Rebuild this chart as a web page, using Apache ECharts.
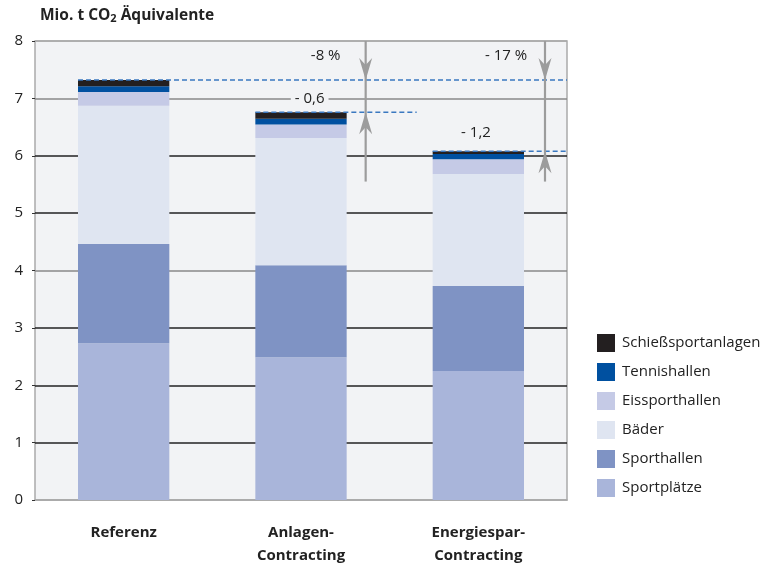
<!DOCTYPE html>
<html><head><meta charset="utf-8">
<script src="https://cdn.jsdelivr.net/npm/echarts@6/dist/echarts.min.js"></script>
<style>html,body{margin:0;padding:0;background:#fff}#c{width:763px;height:567px}</style>
</head><body><div id="c"></div>
<script>
const categories = ['Referenz', 'Anlagen-\nContracting', 'Energiespar-\nContracting'];
const sportplaetze = [2.73, 2.49, 2.25];
const sporthallen = [1.73, 1.60, 1.48];
const baeder = [2.41, 2.22, 1.95];
const eissporthallen = [0.24, 0.235, 0.26];
const tennishallen = [0.10, 0.10, 0.09];
const schiessanlagen = [0.11, 0.115, 0.05];
const yTicks = [0, 1, 2, 3, 4, 5, 6, 7, 8];
const diffLabels = ['-8 %', '- 0,6', '- 17 %', '- 1,2'];

const seriesDefs = [
  ['Sportplätze', sportplaetze, '#a9b5da'],
  ['Sporthallen', sporthallen, '#7f93c4'],
  ['Bäder', baeder, '#dfe5f1'],
  ['Eissporthallen', eissporthallen, '#c5cae6'],
  ['Tennishallen', tennishallen, '#0050a0'],
  ['Schießsportanlagen', schiessanlagen, '#231f20']
];
const FONT = '"Open Sans", sans-serif';
const chart = echarts.init(document.getElementById('c'), null, {renderer: 'canvas'});
const totals = categories.map((_, i) => seriesDefs.reduce((s, d) => s + d[1][i], 0));

const option = {
  animation: false,
  backgroundColor: '#fff',
  textStyle: {fontFamily: FONT},
  grid: {left: 35, right: 196, top: 41, bottom: 66, show: true, backgroundColor: '#f2f3f5', borderColor: '#aaaaaa', borderWidth: 1.5},
  legend: {
    orient: 'vertical', left: 592, top: 329, itemWidth: 18, itemHeight: 18, itemGap: 11,
    icon: 'rect',
    data: seriesDefs.map(d => d[0]).reverse(),
    textStyle: {fontFamily: FONT, fontSize: 15, color: '#222', padding: [0, 0, 0, 2]}
  },
  xAxis: {
    type: 'category', data: categories,
    axisLine: {show: true, lineStyle: {color: '#aaaaaa', width: 1.5}},
    axisTick: {show: false},
    axisLabel: {fontFamily: FONT, fontSize: 15, fontWeight: 'bold', color: '#222', margin: 21, lineHeight: 23}
  },
  yAxis: {
    type: 'value', min: 0, max: 8, interval: 1,
    axisLine: {show: false},
    axisTick: {show: true, length: 3, lineStyle: {color: '#333'}},
    axisLabel: {fontFamily: FONT, fontSize: 15, color: '#222', margin: 12,
      formatter: v => yTicks.includes(v) ? String(v) : ''},
    splitLine: {show: true, lineStyle: {width: 1.5, color: ['#aaaaaa', '#222', '#222', '#222', '#888', '#222', '#222', '#888', '#aaaaaa']}}
  },
  series: seriesDefs.map(d => ({
    name: d[0], type: 'bar', stack: 'total', data: d[1], barWidth: '51.5%',
    itemStyle: {color: d[2]}
  }))
};
chart.setOption(option);

function px(ci, v) { return chart.convertToPixel({xAxisIndex: 0, yAxisIndex: 0}, [ci, v]); }
const ref = totals[0];
const catW = px(1, 0)[0] - px(0, 0)[0];
const barHalf = catW * 0.515 / 2;
const plotRight = px(2, 0)[0] + catW / 2;
const plotTop = px(0, 8)[1];
const g = [];
const dashStyle = {stroke: '#3a78c0', lineWidth: 1.5, lineDash: [5, 3]};
const yRef = px(0, ref)[1];
g.push({type: 'line', shape: {x1: px(0, 0)[0] - barHalf, y1: yRef, x2: plotRight, y2: yRef}, style: dashStyle, z: 100});
const y2 = px(1, totals[1])[1];
const x2r = px(1, 0)[0] + barHalf;
g.push({type: 'line', shape: {x1: px(1, 0)[0] - barHalf, y1: y2, x2: x2r + 70, y2: y2}, style: dashStyle, z: 100});
const y3 = px(2, totals[2])[1];
g.push({type: 'line', shape: {x1: px(2, 0)[0] - barHalf, y1: y3, x2: plotRight, y2: y3}, style: dashStyle, z: 100});

function arrowSet(xa, yTarget) {
  const yBottom = px(0, 5.55)[1];
  g.push({type: 'line', shape: {x1: xa, y1: plotTop, x2: xa, y2: yBottom}, style: {stroke: '#9c9c9c', lineWidth: 2.2}, z: 101});
  g.push({type: 'polygon', shape: {points: [[xa - 6.5, yRef - 22], [xa, yRef - 15], [xa + 6.5, yRef - 22], [xa, yRef]]}, style: {fill: '#9c9c9c'}, z: 102});
  g.push({type: 'polygon', shape: {points: [[xa - 6.5, yTarget + 22], [xa, yTarget + 15], [xa + 6.5, yTarget + 22], [xa, yTarget]]}, style: {fill: '#9c9c9c'}, z: 102});
}
const xa2 = x2r + 19;
const xa3 = px(2, 0)[0] + barHalf + 21;
arrowSet(xa2, y2);
arrowSet(xa3, y3);

const tStyle = (t, bg) => ({text: t, fontFamily: FONT, fontSize: 15, fill: '#222', align: 'center', verticalAlign: 'middle', backgroundColor: bg || 'transparent', padding: [0, 4]});
g.push({type: 'text', x: xa2 - 40, y: px(0, 7.75)[1], style: tStyle(diffLabels[0]), z: 103});
g.push({type: 'text', x: xa2 - 56, y: px(0, 7.0)[1], style: tStyle(diffLabels[1], '#f2f3f5'), z: 103});
g.push({type: 'text', x: xa3 - 39, y: px(0, 7.75)[1], style: tStyle(diffLabels[2]), z: 103});
g.push({type: 'text', x: xa3 - 69, y: px(0, 6.4)[1], style: tStyle(diffLabels[3]), z: 103});
g.push({type: 'text', left: 40, top: 8, style: {
  text: '{b|Mio. t CO}{s|2}{b| Äquivalente}',
  rich: {b: {fontFamily: FONT, fontSize: 15.5, fontWeight: 'bold', fill: '#222'},
         s: {fontFamily: FONT, fontSize: 11, fontWeight: 'bold', fill: '#222', verticalAlign: 'bottom', padding: [6, 0, 0, 0]}}
}});
chart.setOption({graphic: g});
</script></body></html>
